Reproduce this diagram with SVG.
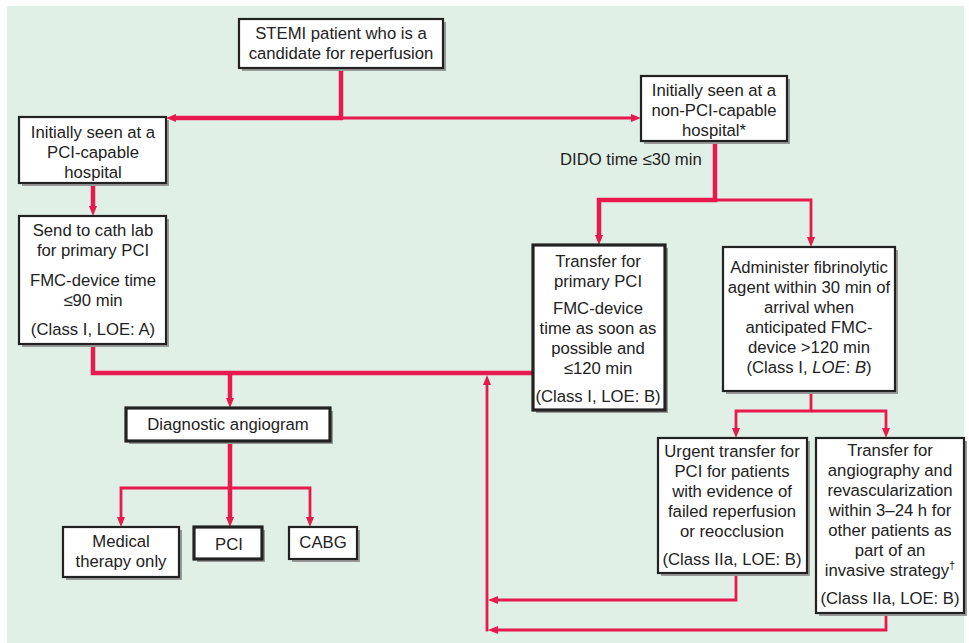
<svg xmlns="http://www.w3.org/2000/svg" width="969" height="643" viewBox="0 0 969 643">
<style>
.bg{fill:#e1f0e6}
.sh{fill:#9a9a9a}
.bx{fill:#fff;stroke:#222;stroke-width:2.2}
.bk{fill:#fff;stroke:#222;stroke-width:3.2}
text{font-family:"Liberation Sans",Arial,Helvetica,sans-serif;font-size:16.7px;fill:#222;text-anchor:middle}
.c{fill:none;stroke:#e8194f;stroke-linejoin:miter}
.t{stroke-width:4.5}
.n{stroke-width:2.8}
</style>
<defs>
<marker id="ah" viewBox="0 0 10 8" refX="2" refY="4" markerWidth="10" markerHeight="8" markerUnits="userSpaceOnUse" orient="auto">
<path d="M0,0 L10,4 L0,8 z" fill="#e8194f"/>
</marker>
</defs>
<rect width="969" height="643" fill="#fff"/>
<rect class="bg" x="7" y="6" width="957" height="637"/>

<g id="connectors">
<path class="c t" d="M341,68 V118 H174" marker-end="url(#ah)"/>
<path class="c n" d="M341,118 H633" marker-end="url(#ah)"/>
<path class="c t" d="M93,183 V208" marker-end="url(#ah)"/>
<path class="c t" d="M93,344 V373 H533"/>
<path class="c t" d="M230,373 V400" marker-end="url(#ah)"/>
<path class="c t" d="M715,141 V200 H599 V237" marker-end="url(#ah)"/>
<path class="c n" d="M715,200 H811 V239" marker-end="url(#ah)"/>
<path class="c n" d="M811,391 V411 H736 V430" marker-end="url(#ah)"/>
<path class="c n" d="M811,411 H886 V430" marker-end="url(#ah)"/>
<path class="c t" d="M230,441 V519" marker-end="url(#ah)"/>
<path class="c n" d="M230,488 H121 V519" marker-end="url(#ah)"/>
<path class="c n" d="M230,488 H310 V519" marker-end="url(#ah)"/>
<path class="c n" d="M736,573 V600 H496" marker-end="url(#ah)"/>
<path class="c n" d="M886,613 V630 H496" marker-end="url(#ah)"/>
<path class="c n" d="M487,631.4 V383" marker-end="url(#ah)"/>
</g>

<g id="stemi">
<rect class="sh" x="242" y="22" width="204" height="49"/>
<rect class="bx" x="239" y="19" width="204" height="49"/>
<text x="341" y="39">STEMI patient who is a</text>
<text x="341" y="59">candidate for reperfusion</text>
</g>

<g id="pci-capable">
<rect class="sh" x="22" y="120" width="147" height="66"/>
<rect class="bx" x="19" y="117" width="147" height="66"/>
<text x="93" y="138">Initially seen at a</text>
<text x="93" y="158">PCI-capable</text>
<text x="93" y="178">hospital</text>
</g>

<g id="non-pci">
<rect class="sh" x="644" y="79" width="146" height="65"/>
<rect class="bx" x="641" y="76" width="146" height="65"/>
<text x="714" y="96">Initially seen at a</text>
<text x="714" y="116">non-PCI-capable</text>
<text x="714" y="136">hospital*</text>
</g>

<g id="dido">
<text x="560" y="165" style="text-anchor:start">DIDO time ≤30 min</text>
</g>

<g id="cath-lab">
<rect class="sh" x="22" y="219" width="147" height="128"/>
<rect class="bx" x="19" y="216" width="147" height="128"/>
<text x="93" y="236">Send to cath lab</text>
<text x="93" y="256">for primary PCI</text>
<text x="93" y="286">FMC-device time</text>
<text x="93" y="306">≤90 min</text>
<text x="93" y="335">(Class I, LOE: A)</text>
</g>

<g id="transfer-primary">
<rect class="sh" x="536" y="248" width="132" height="165"/>
<rect class="bk" x="533" y="245" width="132" height="165"/>
<text x="598" y="267">Transfer for</text>
<text x="598" y="287">primary PCI</text>
<text x="598" y="314">FMC-device</text>
<text x="598" y="334">time as soon as</text>
<text x="598" y="354">possible and</text>
<text x="598" y="374">≤120 min</text>
<text x="598" y="402">(Class I, LOE: B)</text>
</g>

<g id="fibrinolytic">
<rect class="sh" x="726" y="250" width="172" height="144"/>
<rect class="bx" x="723" y="247" width="172" height="144"/>
<text x="809" y="273">Administer fibrinolytic</text>
<text x="809" y="293">agent within 30 min of</text>
<text x="809" y="313">arrival when</text>
<text x="809" y="333">anticipated FMC-</text>
<text x="809" y="353">device &gt;120 min</text>
<text x="809" y="373">(Class I, <tspan font-style="italic">LOE</tspan>: <tspan font-style="italic">B</tspan>)</text>
</g>

<g id="diagnostic">
<rect class="sh" x="129" y="411" width="204" height="33"/>
<rect class="bk" x="126" y="408" width="204" height="33"/>
<text x="228" y="430">Diagnostic angiogram</text>
</g>

<g id="urgent">
<rect class="sh" x="661" y="441" width="149" height="135"/>
<rect class="bx" x="658" y="438" width="149" height="135"/>
<text x="732" y="457">Urgent transfer for</text>
<text x="732" y="477">PCI for patients</text>
<text x="732" y="497">with evidence of</text>
<text x="732" y="517">failed reperfusion</text>
<text x="732" y="537">or reocclusion</text>
<text x="732" y="565">(Class IIa, LOE: B)</text>
</g>

<g id="angiography">
<rect class="sh" x="819" y="441" width="148" height="175"/>
<rect class="bx" x="816" y="438" width="148" height="175"/>
<text x="890" y="456">Transfer for</text>
<text x="890" y="476">angiography and</text>
<text x="890" y="496">revascularization</text>
<text x="890" y="516">within 3–24 h for</text>
<text x="890" y="536">other patients as</text>
<text x="890" y="556">part of an</text>
<text x="890" y="576">invasive strategy<tspan font-size="11" dy="-7">†</tspan></text>
<text x="890" y="604">(Class IIa, LOE: B)</text>
</g>

<g id="medical">
<rect class="sh" x="66" y="530" width="116" height="50"/>
<rect class="bx" x="63" y="527" width="116" height="50"/>
<text x="121" y="547">Medical</text>
<text x="121" y="567">therapy only</text>
</g>

<g id="pci">
<rect class="sh" x="197" y="530" width="68" height="32"/>
<rect class="bk" x="194" y="527" width="68" height="32"/>
<text x="229" y="550">PCI</text>
</g>

<g id="cabg">
<rect class="sh" x="292" y="530" width="68" height="32"/>
<rect class="bx" x="289" y="527" width="68" height="32"/>
<text x="323" y="548">CABG</text>
</g>
</svg>
